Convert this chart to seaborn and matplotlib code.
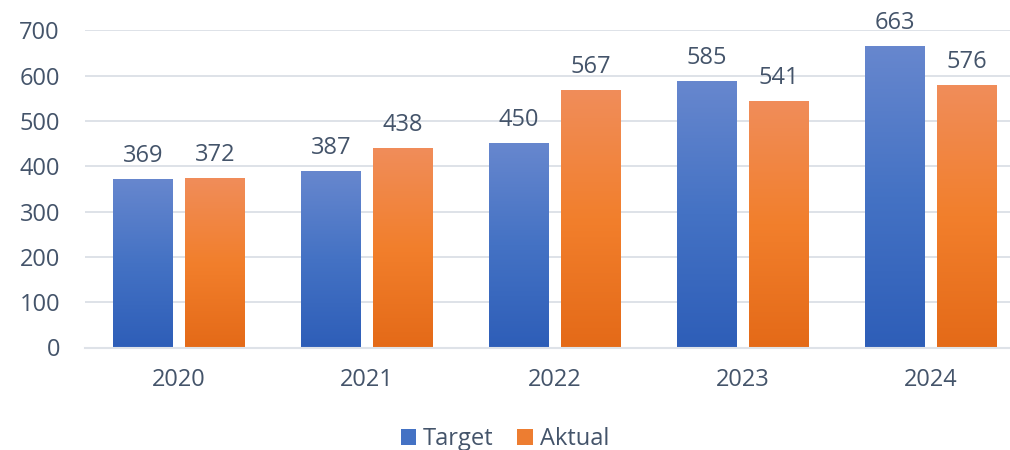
import numpy as np
import pandas as pd
import seaborn as sns
import matplotlib.pyplot as plt
from matplotlib.colors import LinearSegmentedColormap
from matplotlib.patches import Patch

# ----------- data -----------
years = ["2020", "2021", "2022", "2023", "2024"]
target = [369, 387, 450, 585, 663]
aktual = [372, 438, 567, 541, 576]
series = ["Target", "Aktual"]

df = pd.DataFrame({
    "tahun": years * 2,
    "nilai": target + aktual,
    "seri": ["Target"] * len(years) + ["Aktual"] * len(years),
})

# ----------- style -----------
sns.set_theme(style="white")
plt.rcParams["font.family"] = ["Open Sans", "DejaVu Sans"]
text_col = "#44546A"
grid_col = "#DEE2E8"
blue_grad = ["#2E5EB8", "#4472C4", "#6787CE"]    # bottom -> top
orange_grad = ["#E46A18", "#F27F2C", "#F08D5A"]
mid_cols = ["#4472C4", "#ED7D31"]
fs = 17

fig = plt.figure(figsize=(10.1, 4.5), dpi=100)
ax = fig.add_axes([85 / 1010, 102.5 / 450, 940 / 1010, 317.2 / 450])

sns.barplot(data=df, x="tahun", y="nilai", hue="seri", hue_order=series,
            palette=mid_cols, width=0.766, gap=0.18, legend=False, ax=ax)

ax.set_yticks(range(0, 701, 100))
ax.set_xlabel("")
ax.set_ylabel("")
ax.set_axisbelow(True)
ax.yaxis.grid(True, color=grid_col, linewidth=1.4)
for s in ["top", "right", "left"]:
    ax.spines[s].set_visible(False)
ax.spines["bottom"].set_color(grid_col)
ax.spines["bottom"].set_linewidth(1.5)
ax.tick_params(axis="both", length=0, labelsize=fs, colors=text_col)
ax.tick_params(axis="x", pad=15)
ax.tick_params(axis="y", pad=18)

# gradient fill for every bar + value labels
cmaps = [LinearSegmentedColormap.from_list("b", blue_grad),
         LinearSegmentedColormap.from_list("o", orange_grad)]
grad = np.linspace(0, 1, 256).reshape(-1, 1)
for cont, cmap, vals in zip(ax.containers, cmaps, [target, aktual]):
    for bar, v in zip(cont, vals):
        x0 = bar.get_x()
        w = bar.get_width()
        h = bar.get_height()
        ax.imshow(grad, cmap=cmap, origin="lower", aspect="auto",
                  extent=[x0, x0 + w, 0, h], zorder=2, interpolation="bilinear")
        bar.set_visible(False)
        ax.annotate(f"{v}", (x0 + w / 2, h), xytext=(0, 13), textcoords="offset points",
                    ha="center", va="baseline", fontsize=fs, color=text_col)
ax.set_xlim(-0.5, len(years) - 0.5)
ax.set_ylim(0, 700)

handles = [Patch(facecolor=c, edgecolor="none") for c in mid_cols]
fig.legend(handles, series, loc="center", bbox_to_anchor=(505 / 1010, 1 - 439 / 450),
           ncol=2, frameon=False, fontsize=fs, labelcolor=text_col,
           handlelength=0.65, handleheight=0.65, handletextpad=0.3, columnspacing=1.0)

fig.savefig("out.png", dpi=100)
